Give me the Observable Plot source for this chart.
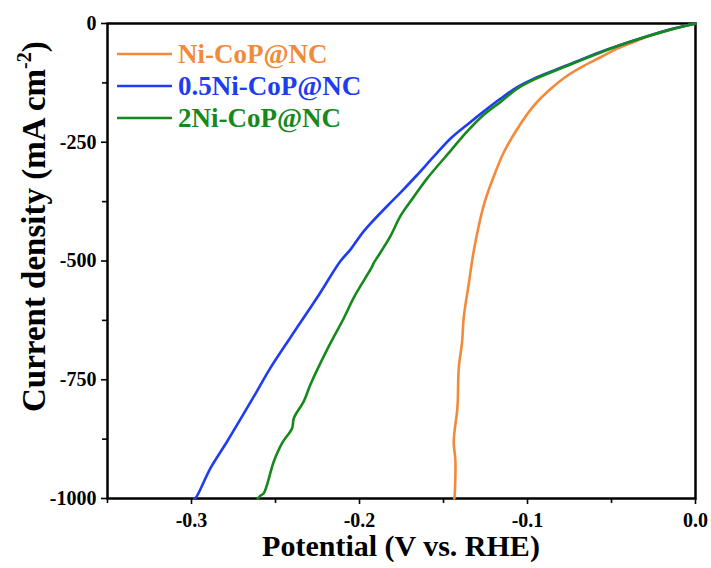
<!DOCTYPE html>
<html><head><meta charset="utf-8">
<script src="https://cdn.jsdelivr.net/npm/d3@7"></script>
<script src="https://cdn.jsdelivr.net/npm/@observablehq/plot@0.6"></script>
<style>
body{margin:0;background:#fff}
svg{font-family:"Liberation Serif","Times New Roman",serif;font-weight:bold}
</style>
</head><body><div id="chart"></div>
<script>
const seriesNames = ["Ni-CoP@NC", "0.5Ni-CoP@NC", "2Ni-CoP@NC"];
const seriesColors = ["#F28A3A", "#1E3CF2", "#16891C"];

// Ni-CoP@NC
const potNi = [0, -0.0169, -0.0268, -0.0367, -0.0467, -0.0565, -0.0665, -0.0764, -0.0863, -0.0962, -0.1061, -0.1141, -0.1200, -0.1255, -0.1280, -0.1320, -0.1350, -0.1380, -0.1389, -0.1409, -0.1415, -0.1419, -0.1439, -0.1429, -0.1435, -0.1436];
const curNi = [0, -14, -25, -39, -53, -71, -89, -110, -138, -173, -222, -271, -321, -376, -410, -479, -549, -620, -669, -725, -795, -816, -880, -922, -999, -1000];

// 0.5Ni-CoP@NC
const pot05 = [0, -0.0169, -0.0367, -0.0565, -0.0764, -0.0962, -0.1061, -0.1160, -0.1260, -0.1359, -0.1458, -0.1560, -0.1660, -0.1756, -0.1826, -0.1974, -0.2054, -0.2113, -0.2252, -0.2411, -0.2530, -0.2640, -0.2788, -0.2887, -0.2976, -0.2985];
const cur05 = [0, -14, -36, -60, -88, -116, -134, -158, -185, -213, -242, -281, -320, -356, -381, -437, -476, -500, -577, -661, -725, -792, -880, -936, -999, -1000];

// 2Ni-CoP@NC
const pot2 = [0, -0.0169, -0.0367, -0.0565, -0.0764, -0.0962, -0.1061, -0.1160, -0.1260, -0.1359, -0.1458, -0.1597, -0.1677, -0.1756, -0.1815, -0.1895, -0.1915, -0.1925, -0.2034, -0.2093, -0.2192, -0.2292, -0.2331, -0.2391, -0.2401, -0.2460, -0.2510, -0.2570, -0.2590, -0.2606];
const cur2 = [0, -15, -36, -61, -89, -118, -137, -165, -192, -227, -268, -326, -365, -405, -447, -493, -504, -512, -577, -620, -686, -760, -795, -831, -852, -883, -922, -989, -994, -1000];

const xMajor = [-0.3, -0.2, -0.1, 0.0];
const xMinor = [-0.35, -0.25, -0.15, -0.05];
const yMajor = [0, -250, -500, -750, -1000];
const yMinor = [-125, -375, -625, -875];
const xDomain = [-0.35, 0];
const yDomain = [-1000, 0];

const series = [
  {name: seriesNames[0], pot: potNi, cur: curNi, color: seriesColors[0]},
  {name: seriesNames[1], pot: pot05, cur: cur05, color: seriesColors[1]},
  {name: seriesNames[2], pot: pot2, cur: cur2, color: seriesColors[2]}
];
const rows = series.flatMap(s => s.pot.map((p, i) => ({series: s.name, pot: p, cur: s.cur[i]})));

const fmtX = d => (d < 0 ? "-" : "") + Math.abs(d).toFixed(1);
const fmtY = d => (d < 0 ? "-" : "") + Math.abs(d);

const chart = Plot.plot({
  width: 711,
  height: 568,
  marginLeft: 107,
  marginRight: 16,
  marginTop: 23,
  marginBottom: 70,
  style: {fontFamily: '"Liberation Serif","Times New Roman",serif', fontWeight: "bold", fontSize: "20px", color: "black", background: "white"},
  x: {domain: xDomain},
  y: {domain: yDomain},
  color: {domain: seriesNames, range: seriesColors},
  marks: [
    Plot.frame({stroke: "#000000", strokeWidth: 2.5}),
    Plot.line(rows, {x: "pot", y: "cur", z: "series", stroke: "series", strokeWidth: 2.6, curve: "catmull-rom"}),
    Plot.axisX({ticks: xMajor, tickFormat: fmtX, tickSize: 6, tickPadding: 8, fontSize: 20, fontWeight: "bold", label: null, stroke: "black", strokeWidth: 1.6}),
    Plot.axisX({ticks: xMinor, tickFormat: () => "", tickSize: 5, label: null, stroke: "black", strokeWidth: 1.6}),
    Plot.axisY({ticks: yMajor, tickFormat: fmtY, tickSize: 6, tickPadding: 5, fontSize: 20, fontWeight: "bold", label: null, stroke: "black", strokeWidth: 1.6}),
    Plot.axisY({ticks: yMinor, tickFormat: () => "", tickSize: 5, label: null, stroke: "black", strokeWidth: 1.6})
  ]
});
document.getElementById("chart").appendChild(chart);

const svg = d3.select(chart);
svg.append("text")
  .attr("x", 401).attr("y", 556)
  .attr("text-anchor", "middle")
  .attr("font-size", 30).attr("font-weight", "bold").attr("fill", "black")
  .text("Potential (V vs. RHE)");

const yt = svg.append("text")
  .attr("text-anchor", "start")
  .attr("transform", "translate(45,412) rotate(-90)")
  .attr("font-size", 33).attr("font-weight", "bold").attr("fill", "black");
yt.append("tspan").text("Current density (mA cm");
yt.append("tspan").attr("font-size", 20).attr("dy", -14).text("-2");
yt.append("tspan").attr("dy", 14).text(")");

const legY = [54, 86, 118];
series.forEach((s, i) => {
  const g = svg.append("g");
  g.append("line").attr("x1", 117).attr("x2", 172).attr("y1", legY[i]).attr("y2", legY[i])
    .attr("stroke", s.color).attr("stroke-width", 2.6);
  g.append("text").attr("x", 178).attr("y", legY[i]).attr("dy", "0.33em")
    .attr("text-anchor", "start")
    .attr("font-size", 27).attr("font-weight", "bold").attr("fill", s.color).text(s.name);
});
</script>
</body></html>
